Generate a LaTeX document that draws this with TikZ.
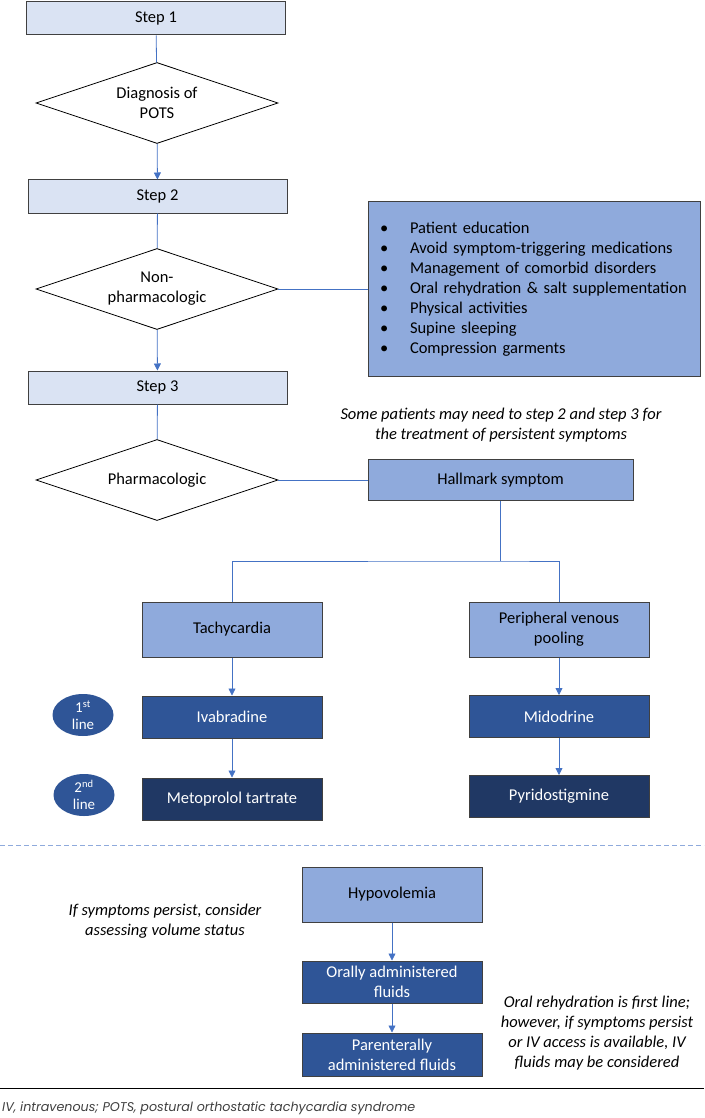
\documentclass[tikz,border=0pt]{standalone}
\usepackage{fontspec}
\setmainfont{Carlito}
\newfontfamily\notefont{Poppins}
\usetikzlibrary{shapes.geometric, arrows.meta, positioning}
\definecolor{clrStep}{HTML}{DAE3F3}
\definecolor{clrLight}{HTML}{8FAADC}
\definecolor{clrMid}{HTML}{2F5597}
\definecolor{clrDark}{HTML}{203864}
\definecolor{clrLink}{HTML}{4472C4}
\definecolor{clrEdge}{HTML}{404040}
\newcommand{\blt}{\makebox[30pt][l]{\textbullet}}

\begin{document}
\begin{tikzpicture}[x=1pt, y=-1pt,
    stepbox/.style={rectangle, draw=clrEdge, fill=clrStep, minimum width=259pt, minimum height=33pt, font=\fontsize{16.5}{19.5}\selectfont, line width=1pt},
    choice/.style={diamond, draw=black, aspect=3, inner sep=0pt, minimum width=242pt, minimum height=81pt, align=center, font=\fontsize{16.5}{20}\selectfont, line width=0.8pt},
    lightbox/.style={rectangle, draw=clrEdge, fill=clrLight, minimum width=180pt, minimum height=55pt, align=center, font=\fontsize{16.5}{20}\selectfont, line width=1pt},
    medbox/.style={lightbox, fill=clrMid, text=white, minimum height=42pt},
    darkbox/.style={lightbox, fill=clrDark, text=white, minimum height=42pt},
    linebadge/.style={ellipse, fill=clrMid, text=white, minimum width=61pt, minimum height=42pt, inner sep=0pt, align=center, font=\fontsize{15}{17}\selectfont},
    note/.style={align=center, font=\fontsize{16.5}{20}\selectfont\itshape},
    link/.style={clrLink, line width=0.8pt},
    arrow/.style={link, -{Triangle[length=7pt, width=7pt]}},
]
\useasboundingbox (0,0) rectangle (704,1118);

% Steps and decisions
\node[stepbox] (step1) at (156, 18.5) {Step 1};
\node[choice] (diag) at (157, 103) {Diagnosis of\\POTS};
\node[stepbox] (step2) at (157.5, 196.5) {Step 2};
\node[choice] (nonph) at (157, 289) {Non-\\pharmacologic};
\node[stepbox] (step3) at (157.5, 387.5) {Step 3};
\node[choice] (pharm) at (157, 480) {Pharmacologic};

\draw[link] (step1) -- (diag);
\draw[arrow] (diag) -- (step2);
\draw[link] (step2) -- (nonph);
\draw[arrow] (nonph) -- (step3);
\draw[link] (step3) -- (pharm);

% Non-pharmacologic measures
\node[lightbox, minimum width=332pt, minimum height=175pt, align=left, text width=308pt] (measures) at (534, 289) {%
\blt Patient education\\
\blt Avoid symptom-triggering medications\\
\blt Management of comorbid disorders\\
\blt Oral rehydration \& salt supplementation\\
\blt Physical activities\\
\blt Supine sleeping\\
\blt Compression garments};
\draw[link] (nonph.east) -- (measures.west);

\node[note] (persist) at (501, 425.5) {Some patients may need to step 2 and step 3 for\\the treatment of persistent symptoms};

% Pharmacologic branch
\node[lightbox, minimum width=265pt, minimum height=41pt] (hallmark) at (500.5, 480) {Hallmark symptom};
\draw[link] (pharm.east) -- (hallmark.west);

\node[lightbox] (tachy) at (232, 629.5) {Tachycardia};
\node[lightbox] (pooling) at (559, 629.5) {Peripheral venous\\pooling};
\coordinate (split) at (500.5, 561);
\draw[link] (hallmark.south) -- (split);
\draw[link] (tachy.north) |- (split) -| (pooling.north);

\node[medbox] (ivab) at (232, 717) {Ivabradine};
\node[darkbox] (metop) at (232, 799) {Metoprolol tartrate};
\node[medbox] (mido) at (559, 716.5) {Midodrine};
\node[darkbox] (pyrido) at (559, 796.5) {Pyridostigmine};
\draw[arrow] (tachy) -- (ivab);
\draw[arrow] (ivab) -- (metop);
\draw[arrow] (pooling) -- (mido);
\draw[arrow] (mido) -- (pyrido);

\node[linebadge] (first) at (83, 715) {1\textsuperscript{st}\\line};
\node[linebadge] (second) at (84, 795) {2\textsuperscript{nd}\\line};

\draw[clrLink!60, line width=0.8pt, dash pattern=on 5pt off 3pt] (0, 845) -- (704, 845);

% Volume status
\node[lightbox] (hypo) at (392, 894.5) {Hypovolemia};
\node[medbox] (oral) at (392, 982) {Orally administered\\fluids};
\node[medbox, minimum height=43pt] (paren) at (392, 1054.5) {Parenterally\\administered fluids};
\draw[arrow] (hypo) -- (oral);
\draw[arrow] (oral) -- (paren);

\node[note] (assess) at (165, 921) {If symptoms persist, consider\\assessing volume status};
\node[note] (ivnote) at (597, 1033.5) {Oral rehydration is first line;\\however, if symptoms persist\\or IV access is available, IV\\fluids may be considered};

\draw[black, line width=0.8pt] (0, 1088) -- (704, 1088);
\node[anchor=west, inner sep=0pt, text=black!75, font=\notefont\itshape\fontsize{12.7}{15}\selectfont] (abbr) at (2, 1108) {IV, intravenous; POTS, postural orthostatic tachycardia syndrome};

\end{tikzpicture}
\end{document}
